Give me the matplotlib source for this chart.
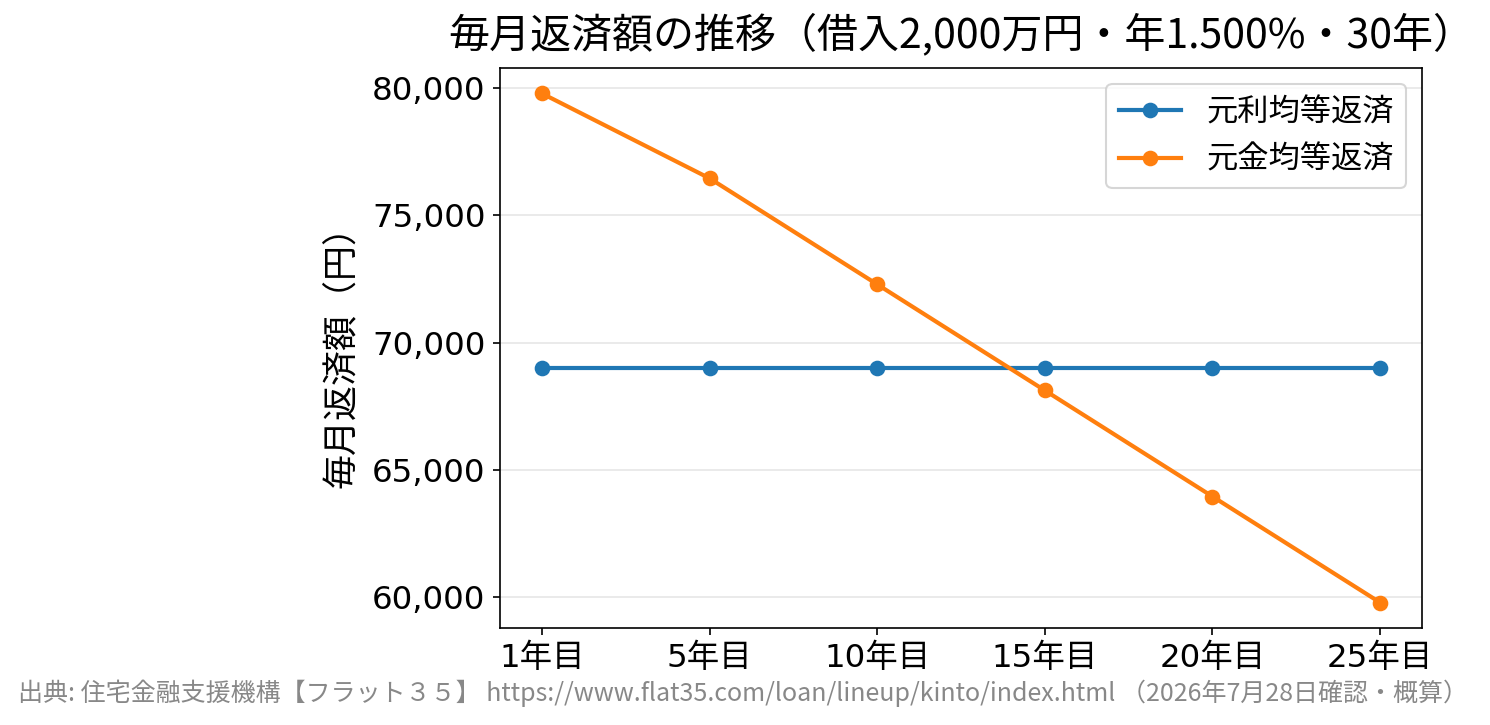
import matplotlib
matplotlib.use("Agg")
import matplotlib.pyplot as plt
from matplotlib.ticker import FuncFormatter

plt.rcParams['font.family'] = ['DejaVu Sans', 'Noto Sans CJK JP']

# 返済開始からの経過年
years = ["1年目", "5年目", "10年目", "15年目", "20年目", "25年目"]
# 元利均等返済（毎月一定）
ganri = [69024, 69024, 69024, 69024, 69024, 69024]
# 元金均等返済（各年12か月目の返済額）
gankin = [79792, 76458, 72292, 68125, 63958, 59792]

title = "毎月返済額の推移（借入2,000万円・年1.500%・30年）"
source = ("出典: 住宅金融支援機構【フラット３５】 https://www.flat35.com/loan/lineup/kinto/index.html"
          " （2026年7月28日確認・概算）")

fig, ax = plt.subplots(figsize=(1490 / 150, 725 / 150), dpi=150)
fig.subplots_adjust(left=500 / 1490, right=1422 / 1490, top=1 - 68 / 725, bottom=1 - 628 / 725)

x = range(len(years))
ax.plot(x, ganri, marker="o", lw=2, ms=6.5, color="#1f77b4", label="元利均等返済")
ax.plot(x, gankin, marker="o", lw=2, ms=6.5, color="#ff7f0e", label="元金均等返済")

ax.set_xticks(list(x))
ax.set_xticklabels(years)
ax.yaxis.set_major_formatter(FuncFormatter(lambda v, p: f"{v:,.0f}"))
ax.tick_params(labelsize=15.6)
ax.grid(axis="y", color="#e6e6e6", lw=0.8)
ax.set_axisbelow(True)

ax.set_ylabel("毎月返済額（円）", fontsize=16.8, family=['Noto Sans CJK JP'], labelpad=6)
ax.set_title(title, fontsize=19.7, pad=10, family=['Noto Sans CJK JP'])
ax.legend(loc="upper right", prop={'family': ['Noto Sans CJK JP'], 'size': 15})

fig.text(18 / 1490, 1 - 693 / 725, source, fontsize=12, color="#888888",
         va="center", ha="left", family=['Noto Sans CJK JP'])

fig.savefig("out.png", dpi=150)
